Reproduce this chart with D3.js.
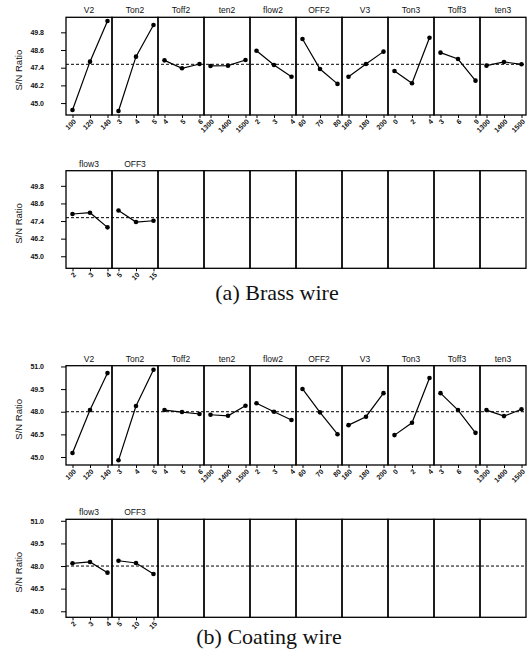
<!DOCTYPE html>
<html>
<head>
<meta charset="utf-8">
<script src="https://cdn.jsdelivr.net/npm/d3@7"></script>
<style>
  body { margin: 0; background: #fff; }
  svg { display: block; }
</style>
</head>
<body>
<svg id="chart" width="528" height="662"></svg>
<script>
// ---------- DATA ----------
const factorsRow1 = ["V2", "Ton2", "Toff2", "ten2", "flow2", "OFF2", "V3", "Ton3", "Toff3", "ten3"];
const factorsRow2 = ["flow3", "OFF3"];
const levelsRow1 = [
  ["100", "120", "140"], ["3", "4", "5"], ["4", "5", "6"], ["1300", "1400", "1500"],
  ["2", "3", "4"], ["60", "70", "80"], ["160", "180", "200"], ["0", "2", "4"],
  ["3", "6", "9"], ["1300", "1400", "1500"]
];
const levelsRow2 = [["2", "3", "4"], ["5", "10", "15"]];

const brassRow1 = [
  [44.53, 47.81, 50.57], [44.46, 48.15, 50.30], [47.90, 47.36, 47.65], [47.52, 47.54, 47.92],
  [48.55, 47.58, 46.79], [49.35, 47.31, 46.30], [46.79, 47.65, 48.49], [47.18, 46.34, 49.43],
  [48.42, 47.99, 46.52], [47.54, 47.79, 47.63]
];
const brassRow2 = [[47.88, 47.97, 46.97], [48.12, 47.33, 47.42]];
const brassMean = 47.63;
const brassTicks = [45.0, 46.2, 47.4, 48.6, 49.8];

const coatRow1 = [
  [45.27, 48.11, 50.56], [44.78, 48.38, 50.78], [48.11, 47.98, 47.85], [47.80, 47.73, 48.40],
  [48.56, 48.00, 47.45], [49.51, 47.96, 46.51], [47.11, 47.67, 49.23], [46.45, 47.27, 50.23],
  [49.23, 48.11, 46.60], [48.11, 47.71, 48.16]
];
const coatRow2 = [[48.18, 48.27, 47.56], [48.35, 48.20, 47.47]];
const coatMean = 48.0;
const coatTicks = [45.0, 46.5, 48.0, 49.5, 51.0];

const yLabel = "S/N Ratio";
const captions = ["(a) Brass wire", "(b) Coating wire"];

// ---------- LAYOUT ----------
const svg = d3.select("#chart");
svg.append("rect").attr("width", 528).attr("height", 662).attr("fill", "#fff");

const nPanels = 10;
const x0 = 66, x1 = 526;
const panelX = d3.scaleBand().domain(d3.range(nPanels)).range([x0, x1]).paddingInner(0).paddingOuter(0);
const pw = panelX.bandwidth();

const sans = "'Liberation Sans', Arial, sans-serif";
const serif = "'Liberation Serif', 'Times New Roman', serif";

function drawRow(top, height, domain, ticks, mean, factors, levels, values) {
  const g = svg.append("g");
  const y = d3.scaleLinear().domain(domain).range([top + height, top]);
  const bottom = top + height;

  // y axis
  const yAxis = d3.axisLeft(y).tickValues(ticks).tickSize(5).tickPadding(17)
    .tickFormat(d3.format(".1f"));
  const ya = g.append("g").attr("transform", `translate(${x0},0)`).call(yAxis);
  ya.select(".domain").remove();
  ya.selectAll(".tick line").attr("stroke", "#000").attr("stroke-width", 1);
  ya.selectAll(".tick text").attr("font-family", sans).attr("font-size", 7)
    .attr("font-weight", "bold").attr("fill", "#111");

  // y title
  g.append("text")
    .attr("transform", `translate(22,${top + height / 2 + 4}) rotate(-90)`)
    .attr("text-anchor", "middle").attr("font-family", sans).attr("font-size", 9.5)
    .attr("fill", "#111").text(yLabel);

  // mean dashed line
  g.append("line").attr("x1", x0).attr("x2", x1)
    .attr("y1", y(mean)).attr("y2", y(mean))
    .attr("stroke", "#000").attr("stroke-width", 1).attr("stroke-dasharray", "3,2");

  // panels
  for (let i = 0; i < nPanels; i++) {
    const px = panelX(i);
    g.append("rect").attr("x", px).attr("y", top).attr("width", pw).attr("height", height)
      .attr("fill", "none").attr("stroke", "#000").attr("stroke-width", 1.3);
    if (i < factors.length) {
      g.append("text").attr("x", px + pw / 2).attr("y", top - 4)
        .attr("text-anchor", "middle").attr("font-family", sans).attr("font-size", 8.5)
        .attr("fill", "#111").text(factors[i]);

      const xs = d3.scalePoint().domain(levels[i]).range([px + 6.5, px + 41.5]);
      // x ticks (marks only from the axis)
      const xa = g.append("g").attr("transform", `translate(0,${bottom})`)
        .call(d3.axisBottom(xs).tickSize(3).tickFormat(""));
      xa.select(".domain").remove();
      xa.selectAll(".tick line").attr("stroke", "#000");
      // rotated tick labels
      g.selectAll(null).data(levels[i]).enter().append("text")
        .attr("transform", d => `translate(${xs(d) + 4},${bottom + 7}) rotate(-45)`)
        .attr("text-anchor", "end")
        .attr("font-family", sans).attr("font-size", 7).attr("font-weight", "bold")
        .attr("fill", "#111")
        .text(d => d);

      const pts = levels[i].map((l, j) => [xs(l), y(values[i][j])]);
      g.append("path").attr("d", d3.line()(pts))
        .attr("fill", "none").attr("stroke", "#000").attr("stroke-width", 1.2);
      g.selectAll(null).data(pts).enter().append("circle")
        .attr("cx", d => d[0]).attr("cy", d => d[1]).attr("r", 2.3).attr("fill", "#000");
    }
  }
}

drawRow(17.3, 97.7, [44.19, 50.82], brassTicks, brassMean, factorsRow1, levelsRow1, brassRow1);
drawRow(170.7, 97.6, [44.18, 50.83], brassTicks, brassMean, factorsRow2, levelsRow2, brassRow2);
drawRow(365.7, 99.3, [44.47, 51.05], coatTicks, coatMean, factorsRow1, levelsRow1, coatRow1);
drawRow(519.3, 98.0, [44.6, 51.1], coatTicks, coatMean, factorsRow2, levelsRow2, coatRow2);

// captions
svg.append("text").attr("x", 277).attr("y", 300).attr("text-anchor", "middle")
  .attr("font-family", serif).attr("font-size", 22).attr("fill", "#111").text(captions[0]);
svg.append("text").attr("x", 269).attr("y", 644).attr("text-anchor", "middle")
  .attr("font-family", serif).attr("font-size", 22).attr("fill", "#111").text(captions[1]);
</script>
</body>
</html>
